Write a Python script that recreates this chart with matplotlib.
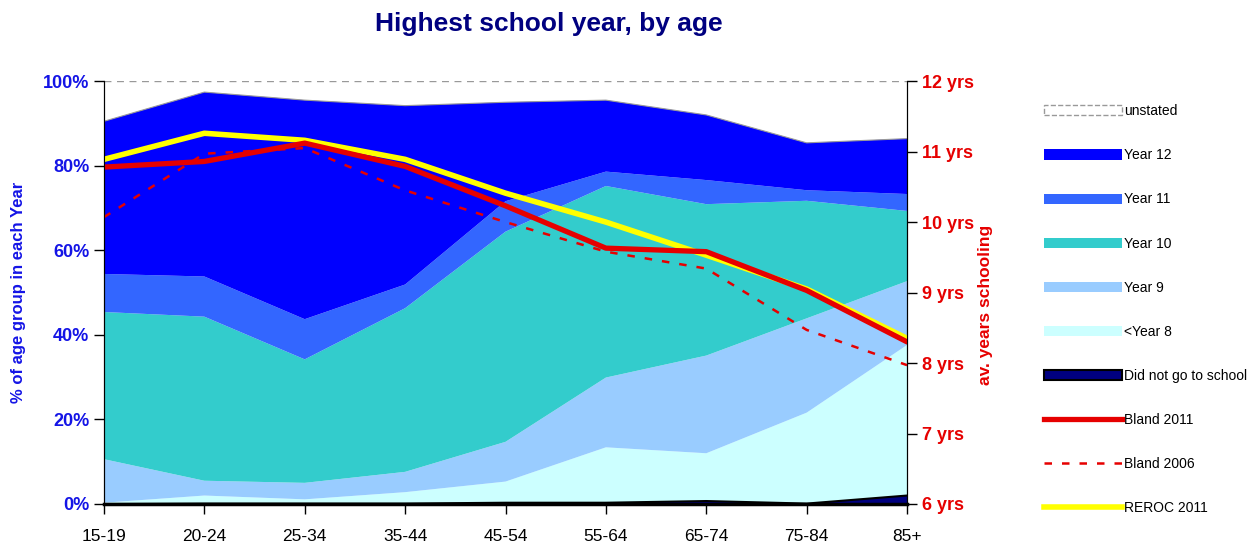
#!/usr/bin/env python3
"""Highest school year by age group: stacked shares plus average years of schooling."""
import matplotlib
matplotlib.use("Agg")
import matplotlib.pyplot as plt
from matplotlib.patches import Patch
from matplotlib.lines import Line2D

ages = ["15-19", "20-24", "25-34", "35-44", "45-54", "55-64", "65-74", "75-84", "85+"]

# shares of each age group (%), bottom of stack first
no_school = [0.0, 0.1, 0.1, 0.1, 0.3, 0.3, 0.7, 0.1, 2.0]
below_y8 = [0.3, 1.9, 1.0, 2.7, 5.0, 13.1, 11.3, 21.5, 35.6]
year9 = [10.3, 3.5, 3.9, 4.8, 9.4, 16.5, 23.1, 22.3, 15.1]
year10 = [34.8, 38.8, 29.2, 38.7, 49.7, 45.3, 35.8, 27.8, 16.6]
year11 = [9.0, 9.5, 9.5, 5.6, 7.2, 3.4, 5.7, 2.5, 4.0]
year12 = [36.1, 43.6, 51.8, 42.3, 23.4, 16.9, 15.4, 11.2, 13.1]

# average years of schooling
bland_2011 = [10.78, 10.86, 11.12, 10.79, 10.23, 9.63, 9.58, 9.03, 8.30]
bland_2006 = [10.07, 10.97, 11.05, 10.45, 10.00, 9.58, 9.34, 8.47, 7.97]
reroc_2011 = [10.89, 11.26, 11.16, 10.89, 10.41, 10.00, 9.53, 9.05, 8.35]

BLUE_TXT = "#1414E6"
RED_TXT = "#E60000"

plt.rcParams["font.family"] = ["Liberation Sans", "DejaVu Sans"]

fig = plt.figure(figsize=(12.57, 5.48), dpi=100)
ax = fig.add_axes([0.0827, 0.0803, 0.6389, 0.7717])
x = list(range(len(ages)))

layers = [no_school, below_y8, year9, year10, year11, year12]
colors = ["#000080", "#CCFFFF", "#99CCFF", "#33CCCC", "#3366FF", "#0000FF"]
ax.stackplot(x, layers, colors=colors, linewidth=0)
top = [sum(v) for v in zip(*layers)]
ax.plot(x, top, color="#999999", lw=0.8)
ax.plot(x, no_school, color="black", lw=1.5)
ax.axhline(100, color="#999999", lw=1, ls=(0, (5, 4)))

ax.set_xlim(0, len(ages) - 1)
ax.set_ylim(0, 100)
ax.set_xticks(x)
ax.set_xticklabels(ages, fontsize=12.5)
ax.set_yticks(range(0, 101, 20))
ax.set_yticklabels([f"{v}%" for v in range(0, 101, 20)], fontsize=13,
                   fontweight="bold", color=BLUE_TXT)
ax.set_ylabel("% of age group in each Year", fontsize=12, fontweight="bold",
              color=BLUE_TXT, labelpad=12)
ax.tick_params(axis="both", direction="out", length=7, width=1)
ax.tick_params(axis="x", pad=11)
ax.spines["top"].set_visible(False)
ax.spines["bottom"].set_linewidth(2.5)

ax2 = ax.twinx()
ax2.set_ylim(6, 12)
ax2.plot(x, reroc_2011, color="#FFFF00", lw=4, solid_capstyle="round")
ax2.plot(x, bland_2006, color="#E60000", lw=1.8, ls=(0, (3, 4)))
ax2.plot(x, bland_2011, color="#E60000", lw=3.8, solid_capstyle="round")
ax2.set_yticks(range(6, 13))
ax2.set_yticklabels([f"{v} yrs" for v in range(6, 13)], fontsize=13,
                    fontweight="bold", color=RED_TXT)
ax2.set_ylabel("av. years schooling", fontsize=12.5, fontweight="bold",
               color=RED_TXT)
ax2.yaxis.set_label_coords(1.088, 0.47)
ax2.tick_params(axis="y", direction="out", length=7, width=1)
ax2.spines["top"].set_visible(False)

fig.text(0.437, 0.956, "Highest school year, by age", ha="center", va="center",
         fontsize=19, fontweight="bold", color="#000080")

handles = [
    Patch(facecolor="white", edgecolor="#999999", linestyle="--", lw=1),
    Patch(facecolor="#0000FF"),
    Patch(facecolor="#3366FF"),
    Patch(facecolor="#33CCCC"),
    Patch(facecolor="#99CCFF"),
    Patch(facecolor="#CCFFFF"),
    Patch(facecolor="#000080", edgecolor="black", lw=1.5),
    Line2D([], [], color="#E60000", lw=3.8),
    Line2D([], [], color="#E60000", lw=1.8, ls=(0, (3, 4))),
    Line2D([], [], color="#FFFF00", lw=4),
]
labels = ["unstated", "Year 12", "Year 11", "Year 10", "Year 9", "<Year 8",
          "Did not go to school", "Bland 2011", "Bland 2006", "REROC 2011"]
fig.legend(handles, labels, loc="upper left", bbox_to_anchor=(0.826, 0.82),
           frameon=False, fontsize=10, handlelength=5.6, handleheight=0.75,
           handletextpad=0.15, labelspacing=2.17, borderaxespad=0)

fig.savefig("out.png", dpi=100)
